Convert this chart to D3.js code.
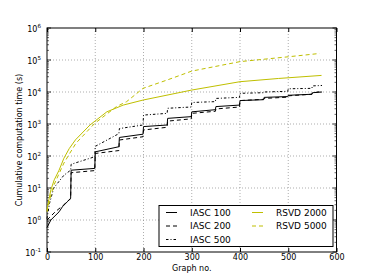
<!DOCTYPE html>
<html lang="en">

<head>
    <meta charset="UTF-8">
    <title>Cumulative computation time</title>
    <style>
        html,
        body {
            background-color: white;
            margin: 0;
        }

        text {
            font-family: "DejaVu Sans", sans-serif;
            fill: black;
        }
    </style>
</head>

<body>
    <main></main>
    <script src="https://d3js.org/d3.v7.min.js"></script>
    <script>
        // - - - - - - - - - -
        // Data: [graph no., cumulative seconds]
        // - - - - - - - - - -
        const iasc100 = [
            [0, 0.58], [8, 1.0], [25, 1.8], [32, 2.6], [42, 3.7], [49, 4.8],
            [50, 36], [99, 41], [100, 135], [149, 195], [150, 380], [199, 480],
            [200, 830], [249, 930], [250, 1500], [299, 1700], [300, 2400], [349, 2800],
            [350, 3500], [399, 3900], [400, 5400], [449, 5750], [450, 6800], [499, 7200],
            [500, 7900], [549, 8500], [550, 9500], [570, 10000]
        ];
        const iasc200 = [
            [0, 1.0], [17, 1.8], [34, 2.9], [41, 3.7], [49, 4.6],
            [50, 30], [99, 35], [100, 120], [149, 148], [150, 316], [199, 400],
            [200, 650], [249, 790], [250, 1230], [299, 1450], [300, 2150], [349, 2500],
            [350, 2950], [399, 3400], [400, 5400], [449, 5900], [450, 6300], [499, 6900],
            [500, 7600], [549, 8500], [550, 9300], [570, 10500]
        ];
        const iasc500 = [
            [0, 1.1], [5, 3.2], [14, 10], [35, 25], [49, 36],
            [50, 55], [99, 95], [100, 200], [149, 500], [150, 720], [199, 930],
            [200, 1900], [249, 2150], [250, 3100], [299, 3400], [300, 4700], [349, 5000],
            [350, 6300], [399, 6800], [400, 9100], [449, 9500], [450, 10000], [499, 10500],
            [500, 12600], [549, 13000], [550, 15500], [570, 16000]
        ];
        const rsvd2000 = [
            [0, 2.0], [1, 2.6], [8, 8.7], [15, 18], [25, 36], [35, 85], [46, 170],
            [59, 320], [89, 930], [124, 2400], [158, 3900], [199, 5600], [300, 11500],
            [400, 21000], [480, 26500], [569, 33000]
        ];
        const rsvd5000 = [
            [0, 1.8], [8, 6], [15, 13], [25, 28], [35, 60], [47, 120], [60, 250],
            [99, 1050], [144, 3500], [165, 5000], [199, 13000], [250, 24000], [300, 45000],
            [400, 89000], [500, 126000], [565, 160000]
        ];

        const seriesNames = ['IASC 100', 'IASC 200', 'IASC 500', 'RSVD 2000', 'RSVD 5000'];
        const xTicks = [0, 100, 200, 300, 400, 500, 600];
        const yExponents = [-1, 0, 1, 2, 3, 4, 5, 6];

        !(function () {
            'use strict';

            let svg, x, y,
                canvas = { width: 374, height: 280 },
                plot = { left: 47, right: 336.5, top: 28, bottom: 252 },
                yellow = '#bfbf00',
                styles = [
                    { color: 'black', dash: null },
                    { color: 'black', dash: '4,3' },
                    { color: 'black', dash: '2.5,2,1,2' },
                    { color: yellow, dash: null },
                    { color: yellow, dash: '4,3' }
                ];

            function setSvg() {
                svg = d3.select('main')
                    .append('svg')
                    .attr('width', canvas.width)
                    .attr('height', canvas.height);
            }

            function setScales() {
                x = d3.scaleLinear().domain([0, 600]).range([plot.left, plot.right]);
                y = d3.scaleLog().domain([0.1, 1e6]).range([plot.bottom, plot.top]);
            }

            /** Grid, ticks and frame like an old matplotlib figure */
            function drawAxes() {
                let grid = svg.append('g')
                    .attr('stroke', '#777')
                    .attr('stroke-width', 0.6)
                    .attr('stroke-dasharray', '1,2');

                xTicks.slice(1, -1).forEach(function (t) {
                    grid.append('line')
                        .attr('x1', x(t)).attr('x2', x(t))
                        .attr('y1', plot.top).attr('y2', plot.bottom);
                });
                yExponents.slice(1, -1).forEach(function (e) {
                    grid.append('line')
                        .attr('x1', plot.left).attr('x2', plot.right)
                        .attr('y1', y(Math.pow(10, e))).attr('y2', y(Math.pow(10, e)));
                });

                // x axis bottom and top, ticks pointing in
                let bottom = d3.axisBottom(x).tickValues(xTicks).tickSizeInner(-4).tickSizeOuter(0)
                    .tickPadding(2);
                let gx = svg.append('g')
                    .attr('transform', 'translate(0,' + plot.bottom + ')')
                    .call(bottom);
                gx.select('.domain').remove();
                gx.selectAll('text').attr('font-size', 8).attr('font-family', '"DejaVu Sans", sans-serif');

                let gxt = svg.append('g')
                    .attr('transform', 'translate(0,' + plot.top + ')')
                    .call(d3.axisTop(x).tickValues(xTicks).tickSizeInner(-4).tickSizeOuter(0).tickFormat(''));
                gxt.select('.domain').remove();

                // y axis: major and minor ticks both sides
                let minors = [];
                yExponents.slice(0, -1).forEach(function (e) {
                    for (let k = 2; k < 10; k++) minors.push(k * Math.pow(10, e));
                });
                let majors = yExponents.map(function (e) { return Math.pow(10, e); });

                [[plot.left, 1], [plot.right, -1]].forEach(function (side) {
                    let g = svg.append('g');
                    g.selectAll('line.maj').data(majors).enter().append('line')
                        .attr('x1', side[0]).attr('x2', side[0] + side[1] * 4)
                        .attr('y1', function (d) { return y(d); })
                        .attr('y2', function (d) { return y(d); })
                        .attr('stroke', 'black').attr('stroke-width', 0.8);
                    g.selectAll('line.min').data(minors).enter().append('line')
                        .attr('x1', side[0]).attr('x2', side[0] + side[1] * 2)
                        .attr('y1', function (d) { return y(d); })
                        .attr('y2', function (d) { return y(d); })
                        .attr('stroke', 'black').attr('stroke-width', 0.6);
                });

                let labels = svg.append('g')
                    .selectAll('text')
                    .data(yExponents)
                    .enter().append('text')
                    .attr('x', plot.left - 6)
                    .attr('y', function (d) { return y(Math.pow(10, d)) + 4; })
                    .attr('text-anchor', 'end')
                    .attr('font-size', 8);
                labels.append('tspan').text('10');
                labels.append('tspan')
                    .attr('dy', -4)
                    .attr('font-size', 5.6)
                    .text(function (d) { return d; });

                svg.append('rect')
                    .attr('x', plot.left).attr('y', plot.top)
                    .attr('width', plot.right - plot.left)
                    .attr('height', plot.bottom - plot.top)
                    .attr('fill', 'none')
                    .attr('stroke', 'black')
                    .attr('stroke-width', 1);

                svg.append('text')
                    .attr('x', (plot.left + plot.right) / 2)
                    .attr('y', 271)
                    .attr('text-anchor', 'middle')
                    .attr('font-size', 8)
                    .text('Graph no.');

                svg.append('text')
                    .attr('transform', 'translate(22,' + (plot.top + plot.bottom) / 2 + ') rotate(-90)')
                    .attr('text-anchor', 'middle')
                    .attr('font-size', 8)
                    .text('Cumulative computation time (s)');
            }

            function drawLines() {
                let line = d3.line()
                    .x(function (d) { return x(d[0]); })
                    .y(function (d) { return y(d[1]); });

                [iasc100, iasc200, iasc500, rsvd2000, rsvd5000].forEach(function (s, i) {
                    svg.append('path')
                        .datum(s)
                        .attr('d', line)
                        .attr('fill', 'none')
                        .attr('stroke', styles[i].color)
                        .attr('stroke-width', 1)
                        .attr('stroke-dasharray', styles[i].dash);
                });
            }

            function drawLegend() {
                let box = { x: 159, y: 205.5, w: 174, h: 41 },
                    rows = [212.5, 226, 239.5],
                    cols = [166, 252];

                svg.append('rect')
                    .attr('x', box.x).attr('y', box.y)
                    .attr('width', box.w).attr('height', box.h)
                    .attr('fill', 'white')
                    .attr('stroke', 'black')
                    .attr('stroke-width', 1);

                seriesNames.forEach(function (name, i) {
                    let cx = cols[i < 3 ? 0 : 1],
                        cy = rows[i < 3 ? i : i - 3];
                    svg.append('line')
                        .attr('x1', cx).attr('x2', cx + 11)
                        .attr('y1', cy).attr('y2', cy)
                        .attr('stroke', styles[i].color)
                        .attr('stroke-width', 1)
                        .attr('stroke-dasharray', styles[i].dash);
                    svg.append('text')
                        .attr('x', cx + 24)
                        .attr('y', cy + 3.3)
                        .attr('font-size', 9)
                        .text(name);
                });
            }

            function main() {
                setSvg();
                setScales();
                drawAxes();
                drawLines();
                drawLegend();
            }

            main();
        }());
    </script>
</body>

</html>
